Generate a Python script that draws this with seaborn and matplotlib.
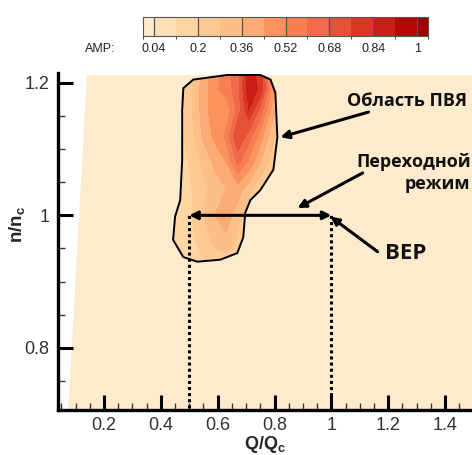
import numpy as np
import seaborn as sns
import matplotlib
matplotlib.use("Agg")
from matplotlib import pyplot as plt
from matplotlib.patches import Polygon
from matplotlib.colors import ListedColormap, BoundaryNorm
from matplotlib.cm import ScalarMappable
from matplotlib.ticker import MultipleLocator, FormatStrFormatter

# * amplitude field (rows: n/nc, cols: Q/Qc)
q_grid = [0.43, 0.47, 0.51, 0.55, 0.59, 0.63, 0.67, 0.71, 0.75, 0.79, 0.83]
n_grid = [0.92, 0.96, 1.00, 1.04, 1.08, 1.12, 1.16, 1.19, 1.22]
amp = [
    [0.12, 0.14, 0.16, 0.18, 0.20, 0.20, 0.18, 0.14, 0.12, 0.10, 0.10],
    [0.12, 0.15, 0.18, 0.24, 0.30, 0.34, 0.26, 0.16, 0.12, 0.10, 0.10],
    [0.12, 0.15, 0.20, 0.28, 0.36, 0.40, 0.32, 0.20, 0.14, 0.12, 0.10],
    [0.12, 0.16, 0.20, 0.26, 0.32, 0.36, 0.40, 0.32, 0.22, 0.14, 0.12],
    [0.12, 0.16, 0.22, 0.30, 0.38, 0.44, 0.62, 0.50, 0.36, 0.24, 0.14],
    [0.14, 0.18, 0.26, 0.38, 0.46, 0.54, 0.76, 0.64, 0.48, 0.32, 0.18],
    [0.14, 0.20, 0.28, 0.40, 0.50, 0.46, 0.62, 0.84, 0.66, 0.42, 0.22],
    [0.14, 0.20, 0.28, 0.40, 0.50, 0.56, 0.64, 0.90, 0.82, 0.50, 0.24],
    [0.14, 0.20, 0.28, 0.38, 0.48, 0.56, 0.64, 0.88, 0.80, 0.48, 0.24],
]

# * outline of the vortex-rope region
region_q = [0.479, 0.514, 0.634, 0.750, 0.786, 0.803, 0.810, 0.796, 0.750, 0.715,
            0.697, 0.690, 0.669, 0.609, 0.528, 0.479, 0.443, 0.450, 0.468, 0.475, 0.475]
region_n = [1.192, 1.205, 1.212, 1.212, 1.205, 1.185, 1.118, 1.069, 1.038, 1.023,
            1.004, 0.967, 0.943, 0.933, 0.930, 0.937, 0.963, 0.998, 1.023, 1.084, 1.159]

# * computed domain (background)
domain_q = [0.14, 1.6, 1.6, 0.073]
domain_n = [1.212, 1.212, 0.70, 0.70]

levels = [0.0, 0.04, 0.12, 0.20, 0.28, 0.36, 0.44, 0.52, 0.60, 0.68, 0.76, 0.84, 0.92, 1.00, 1.04]
cbar_ticks = [0.04, 0.2, 0.36, 0.52, 0.68, 0.84, 1.0]

bep_q = [0.5, 1.0]
bep_n = 1.0

x_ticks = [0.2, 0.4, 0.6, 0.8, 1.0, 1.2, 1.4]
y_ticks = [0.8, 1.0, 1.2]

sns.set_style("white")
plt.rcParams["font.family"] = ["Liberation Sans", "DejaVu Sans"]
plt.rcParams["mathtext.fontset"] = "custom"
plt.rcParams["mathtext.rm"] = "Liberation Sans"
plt.rcParams["mathtext.bf"] = "Liberation Sans:bold"

base = matplotlib.colormaps["OrRd"]
colors = [base(v) for v in np.linspace(0.11, 0.92, len(levels) - 1)]
cmap = ListedColormap(colors)
norm = BoundaryNorm(levels, cmap.N)

fig = plt.figure(figsize=(4.72, 4.55), dpi=100)
ax = fig.add_axes([0.1229, 0.0989, 0.8771, 0.7407])

ax.fill(domain_q, domain_n, color=colors[0], lw=0, zorder=0)

cs = ax.contourf(q_grid, n_grid, amp, levels=levels, colors=colors, zorder=1)
clip = Polygon(np.column_stack([region_q, region_n]), closed=True,
               transform=ax.transData, facecolor="none")
cs.set_clip_path(clip)
ax.fill(region_q, region_n, facecolor="none", edgecolor="black", lw=1.4, zorder=3)

# * BEP marker lines
for q in bep_q:
    ax.plot([q, q], [0.70, bep_n], color="black", ls=(0, (1, 1)), lw=2.2, zorder=3)
ax.annotate("", xy=(bep_q[1], bep_n), xytext=(bep_q[0], bep_n),
            arrowprops=dict(arrowstyle="<|-|>", color="black", lw=2.2,
                            mutation_scale=12, shrinkA=0, shrinkB=0), zorder=4)

txt = dict(family=["Open Sans", "DejaVu Sans"], fontweight="bold", color="#111111")
ax.text(1.265, 1.172, "Область ПВЯ", ha="center", va="center", fontsize=13, **txt)
ax.annotate("", xy=(0.821, 1.118), xytext=(1.131, 1.156),
            arrowprops=dict(arrowstyle="-|>", color="black", lw=2.2,
                            mutation_scale=12, shrinkA=0, shrinkB=0))
ax.text(1.49, 1.064, "Переходной\nрежим", ha="right", va="center",
        fontsize=13, linespacing=1.35, **txt)
ax.annotate("", xy=(0.881, 1.011), xytext=(1.110, 1.064),
            arrowprops=dict(arrowstyle="-|>", color="black", lw=2.2,
                            mutation_scale=12, shrinkA=0, shrinkB=0))
ax.text(1.262, 0.943, "BEP", ha="center", va="center", fontsize=16, **txt)
ax.annotate("", xy=(0.997, 0.998), xytext=(1.163, 0.945),
            arrowprops=dict(arrowstyle="-|>", color="black", lw=2.2,
                            mutation_scale=12, shrinkA=0, shrinkB=0))

ax.set_xlim(0.038, 1.495)
ax.set_ylim(0.706, 1.215)
ax.set_xticks(x_ticks)
ax.set_yticks(y_ticks)
ax.xaxis.set_minor_locator(MultipleLocator(0.05))
ax.yaxis.set_minor_locator(MultipleLocator(0.05))
ax.xaxis.set_major_formatter(FormatStrFormatter("%g"))
ax.yaxis.set_major_formatter(FormatStrFormatter("%g"))
ax.tick_params(which="both", bottom=True, left=True, top=False, right=False)
ax.tick_params(which="major", direction="in", length=11, width=2.2, labelsize=13,
               colors="black", labelcolor="#333333")
ax.tick_params(which="minor", direction="in", length=5, width=1.0, colors="#333333")
ax.tick_params(axis="x", which="major", pad=5)
ax.tick_params(axis="y", which="major", pad=6)
for side in ["top", "right"]:
    ax.spines[side].set_visible(False)
for side in ["left", "bottom"]:
    ax.spines[side].set_linewidth(2.4)
    ax.spines[side].set_color("black")

ax.set_xlabel(r"$\mathbf{Q/Q_c}$", fontsize=13)
ax.xaxis.set_label_coords(0.5, -0.072)
ax.set_ylabel(r"$\mathbf{n/n_c}$", fontsize=13.5)
ax.yaxis.set_label_coords(-0.075, 0.55)

# * colour bar
cax = fig.add_axes([0.303, 0.921, 0.604, 0.042])
cb = fig.colorbar(ScalarMappable(norm=norm, cmap=cmap), cax=cax,
                  orientation="horizontal", ticks=cbar_ticks, spacing="proportional")
cb.ax.xaxis.set_major_formatter(FormatStrFormatter("%g"))
cb.ax.tick_params(length=0, labelsize=9, pad=5, labelcolor="#222222")
cb.outline.set_edgecolor("#555555")
cb.outline.set_linewidth(0.8)
for t in cbar_ticks:
    cax.axvline(t, color="#555555", lw=0.9)
fig.text(0.245, 0.893, "AMP:", ha="right", va="center", fontsize=9, color="#222222")

fig.savefig("out.png", dpi=100)
